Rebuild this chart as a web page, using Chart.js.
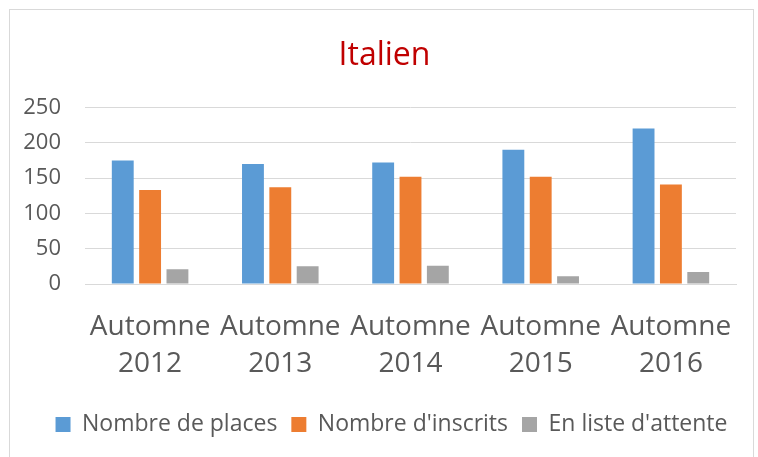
<!DOCTYPE html>
<html lang="fr">
<head>
<meta charset="UTF-8">
<title>Italien</title>
<script src="https://cdn.jsdelivr.net/npm/chart.js"></script>
<style>
    body {
        margin: 0;
        background: #ffffff;
        width: 758px;
        height: 457px;
        overflow: hidden;
        font-family: "Open Sans", sans-serif;
    }
    .frame {
        position: absolute;
        left: 9px;
        top: 9px;
        width: 743px;
        height: 460px;
        border: 1px solid #d9d9d9;
    }
    canvas {
        display: block;
    }
</style>
</head>
<body>
<div class="frame">
    <canvas id="chart" width="743" height="447"></canvas>
</div>
<script>
    // Données
    var categories = [['Automne', '2012'], ['Automne', '2013'], ['Automne', '2014'], ['Automne', '2015'], ['Automne', '2016']];
    var places = [175, 170, 172, 190, 220];
    var inscrits = [133, 137, 152, 152, 141];
    var attente = [21, 25, 26, 11, 17];
    var yTicks = [0, 50, 100, 150, 200, 250];

    var textColor = '#595959';
    var gridColor = '#d9d9d9';

    // décale un peu le titre et la légende vers la droite, comme dans Excel
    var shiftBlocks = {
        id: 'shiftBlocks',
        afterLayout: function (chart) {
            chart.titleBlock.left += 6;
            chart.titleBlock.right += 6;
            chart.legend.left += 13;
            chart.legend.right += 13;
        }
    };

    var ctx = document.getElementById('chart').getContext('2d');
    var chart = new Chart(ctx, {
        type: 'bar',
        data: {
            labels: categories,
            datasets: [
                { label: 'Nombre de places', data: places, backgroundColor: '#5B9BD5' },
                { label: "Nombre d'inscrits", data: inscrits, backgroundColor: '#ED7D31' },
                { label: "En liste d'attente", data: attente, backgroundColor: '#A5A5A5' }
            ]
        },
        plugins: [shiftBlocks],
        options: {
            responsive: false,
            animation: false,
            layout: {
                padding: { left: 11, right: 17, top: 10, bottom: 11 }
            },
            datasets: {
                bar: {
                    categoryPercentage: 0.63,
                    barPercentage: 0.8
                }
            },
            plugins: {
                title: {
                    display: true,
                    text: 'Italien',
                    color: '#C00000',
                    font: { family: 'Open Sans', size: 32, weight: 'normal' },
                    padding: { top: 17, bottom: 32 }
                },
                legend: {
                    position: 'bottom',
                    labels: {
                        color: textColor,
                        font: { family: 'Open Sans', size: 23 },
                        boxWidth: 15,
                        boxHeight: 15,
                        padding: 14
                    }
                },
                tooltip: { enabled: false }
            },
            scales: {
                x: {
                    grid: { display: false },
                    border: { display: true, color: gridColor },
                    afterFit: function (scale) {
                        scale.height = 115;
                    },
                    ticks: {
                        color: textColor,
                        font: { family: 'Open Sans', size: 28, lineHeight: 1.32 },
                        maxRotation: 0,
                        autoSkip: false,
                        padding: 17
                    }
                },
                y: {
                    min: 0,
                    max: 250,
                    afterBuildTicks: function (axis) {
                        axis.ticks = yTicks.map(function (v) { return { value: v }; });
                    },
                    afterFit: function (scale) {
                        scale.width = 64;
                    },
                    grid: { color: gridColor, lineWidth: 1, drawTicks: false },
                    border: { display: false },
                    ticks: {
                        color: textColor,
                        font: { family: 'Open Sans', size: 22 },
                        padding: 24,
                        autoSkip: false
                    }
                }
            }
        }
    });
</script>
</body>
</html>
